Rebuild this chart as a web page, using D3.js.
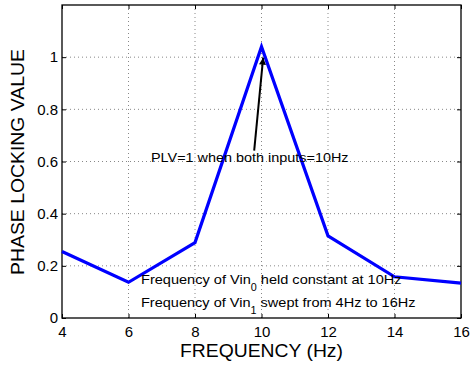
<!DOCTYPE html>
<html><head><meta charset="utf-8">
<script src="https://cdn.jsdelivr.net/npm/d3@7"></script>
<style>body{margin:0;background:#fff}svg{display:block;font-family:"Liberation Sans",Arial,Helvetica,sans-serif}</style>
</head><body><svg id="c" width="470" height="367"></svg>
<script>
const freqs = [4, 6, 8, 10, 12, 14, 16];
const plv = [0.255, 0.137, 0.289, 1.04, 0.315, 0.158, 0.134];
const xTicks = [4, 6, 8, 10, 12, 14, 16];
const yTicks = [0, 0.2, 0.4, 0.6, 0.8, 1];
const xLabel = "FREQUENCY (Hz)";
const yLabel = "PHASE LOCKING VALUE";

const L = 62, R = 461, T = 5, B = 318;
const svg = d3.select("#c");
const x = d3.scaleLinear().domain([4, 16]).range([L, R]);
const y = d3.scaleLinear().domain([0, 1.2]).range([B, T]);

// stretch a text horizontally (in its own frame) to a target width
function fit(sel, target) {
  const w = sel.node().getBBox().width;
  const s = target / w;
  const g = sel.node().parentNode;
  return s;
}

// grid
const g = svg.append("g");
xTicks.slice(1, -1).forEach(t => g.append("line").attr("x1", x(t)).attr("x2", x(t)).attr("y1", T).attr("y2", B)
  .attr("stroke", "#888").attr("stroke-width", 1).attr("stroke-dasharray", "1,3"));
yTicks.slice(1).forEach(t => g.append("line").attr("x1", L).attr("x2", R).attr("y1", y(t)).attr("y2", y(t))
  .attr("stroke", "#888").attr("stroke-width", 1).attr("stroke-dasharray", "1,3"));

// axes
const xa = svg.append("g").attr("transform", `translate(0,${B})`)
  .call(d3.axisBottom(x).tickValues(xTicks).tickSizeInner(-4).tickSizeOuter(0).tickPadding(8).tickFormat(d3.format("d")));
const ya = svg.append("g").attr("transform", `translate(${L},0)`)
  .call(d3.axisLeft(y).tickValues(yTicks).tickSizeInner(-4).tickSizeOuter(0).tickPadding(4).tickFormat(d => d === 0 ? "0" : d === 1 ? "1" : d3.format(".1f")(d)));
svg.append("g").attr("transform", `translate(0,${T})`)
  .call(d3.axisTop(x).tickValues(xTicks).tickSizeInner(-4).tickSizeOuter(0).tickFormat(""));
svg.append("g").attr("transform", `translate(${R},0)`)
  .call(d3.axisRight(y).tickValues(yTicks).tickSizeInner(-4).tickSizeOuter(0).tickFormat(""));
svg.selectAll(".domain").remove();
svg.selectAll(".tick line").attr("stroke", "#000");
[xa, ya].forEach(a => a.selectAll("text").attr("font-size", 15).attr("fill", "#000").attr("font-family", "Liberation Sans, Arial, sans-serif"));
svg.append("rect").attr("x", L).attr("y", T).attr("width", R - L).attr("height", B - T)
  .attr("fill", "none").attr("stroke", "#000").attr("stroke-width", 1.3);

// line
svg.append("path").datum(freqs.map((f, i) => [f, plv[i]]))
  .attr("d", d3.line().x(d => x(d[0])).y(d => y(d[1])))
  .attr("fill", "none").attr("stroke", "#0000ff").attr("stroke-width", 3.2).attr("stroke-linejoin", "miter");

// arrow annotation
svg.append("defs").append("marker").attr("id", "ah").attr("viewBox", "0 0 10 10").attr("refX", 10).attr("refY", 5)
  .attr("markerWidth", 9).attr("markerHeight", 7).attr("markerUnits", "userSpaceOnUse").attr("orient", "auto")
  .append("path").attr("d", "M0,0 L10,5 L0,10 Z").attr("fill", "#000");
svg.append("line").attr("x1", x(9.78)).attr("y1", y(0.642)).attr("x2", x(10.05)).attr("y2", y(0.998))
  .attr("stroke", "#000").attr("stroke-width", 2).attr("marker-end", "url(#ah)");

function stretchedText(px, py, size, target, build) {
  const grp = svg.append("g").attr("transform", `translate(${px},${py})`);
  const t = grp.append("text").attr("x", 0).attr("y", 0).attr("font-size", size).attr("fill", "#000");
  build(t);
  const s = target / t.node().getBBox().width;
  grp.attr("transform", `translate(${px},${py}) scale(${s},1)`);
  return t;
}
stretchedText(151, 162, 13.5, 198, t => t.text("PLV=1 when both inputs=10Hz"));

// bottom annotation
stretchedText(141, 284, 13.5, 261, t => {
  t.append("tspan").text("Frequency of Vin");
  t.append("tspan").attr("dy", 7).attr("font-size", 10).text("0");
  t.append("tspan").attr("dy", -7).text(" held constant at 10Hz");
});
stretchedText(141, 306.5, 13.5, 275, t => {
  t.append("tspan").text("Frequency of Vin");
  t.append("tspan").attr("dy", 7).attr("font-size", 10).text("1");
  t.append("tspan").attr("dy", -7).text(" swept from 4Hz to 16Hz");
});

// axis labels
const xl = svg.append("g").attr("transform", `translate(261.5,357)`);
const xt = xl.append("text").attr("text-anchor", "middle").attr("font-size", 17.5).attr("fill", "#000").text(xLabel);
xl.attr("transform", `translate(261.5,357) scale(${163 / xt.node().getBBox().width},1)`);
const yl = svg.append("g").attr("transform", `translate(24,162) rotate(-90)`);
const yt = yl.append("text").attr("text-anchor", "middle").attr("font-size", 18).attr("fill", "#000").text(yLabel);
yl.attr("transform", `translate(24,162) rotate(-90) scale(${226 / yt.node().getBBox().width},1)`);
</script></body></html>
